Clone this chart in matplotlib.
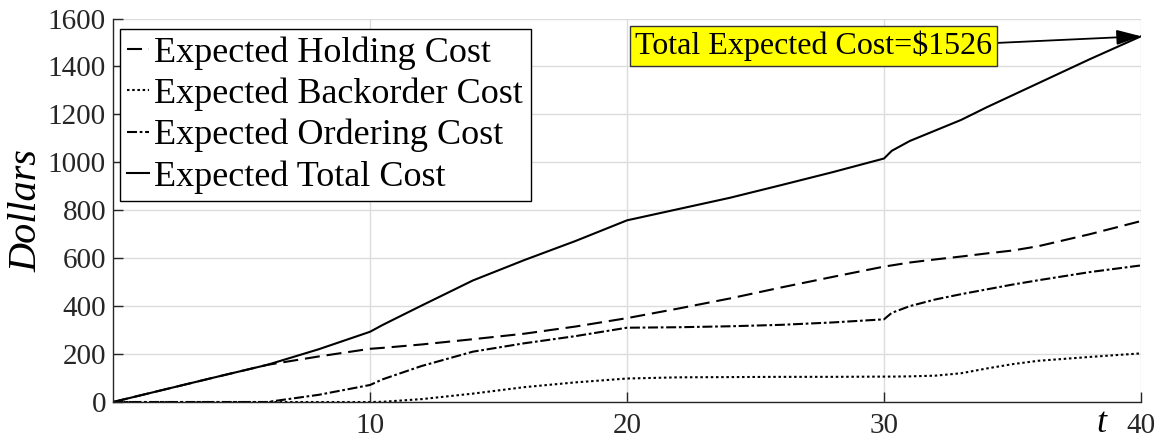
import matplotlib
matplotlib.use("Agg")
import matplotlib.pyplot as plt

# time grid (periods) and expected costs
t = [0, 2, 4, 6, 8, 10, 10.5, 12, 14, 16, 18, 20, 22, 24, 26, 28,
     30, 30.3, 31, 32, 33, 34, 35, 36, 38, 40]
holding = [0, 52, 104, 155, 190, 222, 226, 240, 262, 285, 315, 350, 390, 432,
           478, 522, 565, 570, 582, 595, 607, 620, 632, 650, 700, 755]
backorder = [0, 0, 0, 0, 0, 0, 1, 12, 35, 62, 82, 98, 103, 104, 105, 105,
             106, 106, 107, 110, 120, 140, 158, 172, 188, 203]
ordering = [0, 0, 0, 0, 30, 71, 95, 150, 210, 245, 275, 310, 312, 316, 322,
            332, 345, 372, 400, 428, 450, 470, 490, 508, 542, 570]
total = [0, 52, 104, 155, 220, 293, 322, 402, 507, 592, 672, 758, 805, 852,
         905, 959, 1016, 1048, 1089, 1133, 1177, 1230, 1280, 1330, 1430, 1526]

xticks = [10, 20, 30, 40]
yticks = [0, 200, 400, 600, 800, 1000, 1200, 1400, 1600]

plt.rcParams['font.family'] = ['Liberation Serif', 'DejaVu Serif']
# mathtext in the same serif, so the "t" label gets a tight box
plt.rcParams['mathtext.fontset'] = 'custom'
plt.rcParams['mathtext.it'] = 'Liberation Serif:italic'
plt.rcParams['mathtext.rm'] = 'Liberation Serif'

fig = plt.figure(figsize=(11.66, 4.41), dpi=100)
ax = fig.add_axes([0.0969, 0.0884, 0.8817, 0.958 - 0.0884])

lw = 1.5
ax.plot(t, holding, color='black', lw=lw, dashes=(7.2, 3.3),
        label='Expected Holding Cost')
ax.plot(t, backorder, color='black', lw=lw, dashes=(1.2, 1.3),
        label='Expected Backorder Cost')
ax.plot(t, ordering, color='black', lw=lw, dashes=(4.8, 1.3, 1.3, 1.3),
        label='Expected Ordering Cost')
ax.plot(t, total, color='black', lw=lw, label='Expected Total Cost')

ax.set_xlim(0, 40)
ax.set_ylim(0, 1600)
ax.set_xticks(xticks)
ax.set_yticks(yticks)
ax.grid(True, color='#dcdcdc', lw=1)
ax.set_axisbelow(True)
for s in ['top', 'right']:
    ax.spines[s].set_visible(False)
for s in ['left', 'bottom']:
    ax.spines[s].set_color('#262626')
    ax.spines[s].set_linewidth(1)
ax.tick_params(direction='in', length=7, width=1, color='#262626',
               labelsize=21, labelcolor='#262626')
ax.tick_params(axis='x', pad=8)
ax.tick_params(axis='y', pad=5)

ax.set_ylabel('Dollars', fontsize=29, fontstyle='italic', labelpad=2)
ax.set_xlabel('$t$', fontsize=26)
ax.xaxis.set_label_coords(0.962, -0.012)

leg = ax.legend(loc='upper left', bbox_to_anchor=(0.007, 0.973), fontsize=26,
                fancybox=False, edgecolor='black', framealpha=1,
                handlelength=0.6, handletextpad=0.15, labelspacing=0.22,
                borderpad=0.2, borderaxespad=0)
leg.get_frame().set_linewidth(1)

ax.annotate('Total Expected Cost=$1526', xy=(40, total[-1]),
            xytext=(20.3, 1487), textcoords='data', fontsize=23,
            ha='left', va='center',
            bbox=dict(boxstyle='square,pad=0.15', fc='yellow', ec='#333333', lw=1),
            arrowprops=dict(arrowstyle='-|>,head_length=0.65,head_width=0.2',
                            color='black', lw=1.3, relpos=(1, 0.58),
                            shrinkA=0, shrinkB=0))

fig.savefig('out.png', dpi=100)
